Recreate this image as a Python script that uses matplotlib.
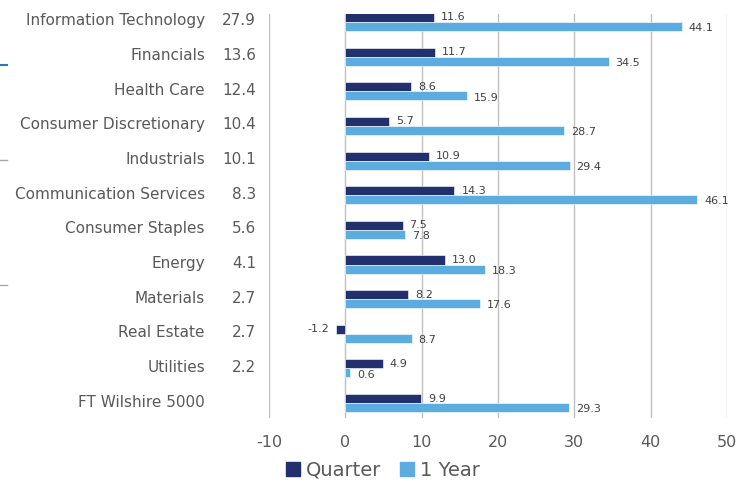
import numpy as np
import matplotlib.pyplot as plt
from matplotlib.transforms import blended_transform_factory
from matplotlib.lines import Line2D

plt.rcParams['axes.unicode_minus'] = False

sectors = ['Information Technology', 'Financials', 'Health Care', 'Consumer Discretionary',
           'Industrials', 'Communication Services', 'Consumer Staples', 'Energy',
           'Materials', 'Real Estate', 'Utilities', 'FT Wilshire 5000']
weights = ['27.9', '13.6', '12.4', '10.4', '10.1', '8.3', '5.6', '4.1', '2.7', '2.7', '2.2', '']
quarter = [11.6, 11.7, 8.6, 5.7, 10.9, 14.3, 7.5, 13.0, 8.2, -1.2, 4.9, 9.9]
one_year = [44.1, 34.5, 15.9, 28.7, 29.4, 46.1, 7.8, 18.3, 17.6, 8.7, 0.6, 29.3]

c_q = '#22316E'
c_y = '#5DACE0'
txt = '#404040'

fig = plt.figure(figsize=(7.44, 4.83), dpi=100)
ax = fig.add_axes([269/744, 1 - 418/483, (727-269)/744, (418-14)/483])

y = np.arange(len(sectors))
h = 0.26
ax.barh(y - h/2, quarter, height=h, color=c_q, edgecolor='white', linewidth=0.4, zorder=3)
ax.barh(y + h/2, one_year, height=h, color=c_y, edgecolor='white', linewidth=0.4, zorder=3)

for i in range(len(sectors)):
    q = quarter[i]
    if q < 0:
        ax.text(q - 0.9, y[i] - h/2, f'{q:.1f}', ha='right', va='center', fontsize=8, color=txt)
    else:
        ax.text(q + 0.9, y[i] - h/2, f'{q:.1f}', ha='left', va='center', fontsize=8, color=txt)
    ax.text(one_year[i] + 0.9, y[i] + h/2 + 0.05, f'{one_year[i]:.1f}', ha='left', va='center',
            fontsize=8, color=txt)

ax.set_xlim(-10, 50)
ax.set_ylim(11.43, -0.23)
ax.set_xticks(range(-10, 51, 10))
ax.set_yticks([])
ax.grid(axis='x', color='#BFBFBF', linewidth=1, zorder=0)
for s in ax.spines.values():
    s.set_visible(False)
ax.tick_params(axis='x', length=0, labelsize=11.5, labelcolor='#595959', pad=12)

tr = blended_transform_factory(fig.transFigure, ax.transData)
for i in range(len(sectors)):
    ax.text(205/744, y[i] - 0.03, sectors[i], transform=tr, ha='right', va='center',
            fontsize=11, color='#595959')
    ax.text(256/744, y[i] - 0.03, weights[i], transform=tr, ha='right', va='center',
            fontsize=11, color='#595959')

# stray marks at left edge
fig.add_artist(Line2D([0, 7/744], [1 - 65/483, 1 - 65/483], color='#2E75B6', lw=1.5))
fig.add_artist(Line2D([0, 7/744], [1 - 160/483, 1 - 160/483], color='#A6A6A6', lw=1))
fig.add_artist(Line2D([0, 7/744], [1 - 285/483, 1 - 285/483], color='#A6A6A6', lw=1))

handles = [plt.Rectangle((0, 0), 1, 1, color=c_q), plt.Rectangle((0, 0), 1, 1, color=c_y)]
fig.legend(handles, ['Quarter', '1 Year'], loc='center', bbox_to_anchor=(383/744, 1 - 470/483),
           ncol=2, frameon=False, fontsize=14, handlelength=0.7, handleheight=0.7,
           handletextpad=0.3, columnspacing=1.0, labelcolor='#595959')

fig.savefig('out.png', dpi=100)
